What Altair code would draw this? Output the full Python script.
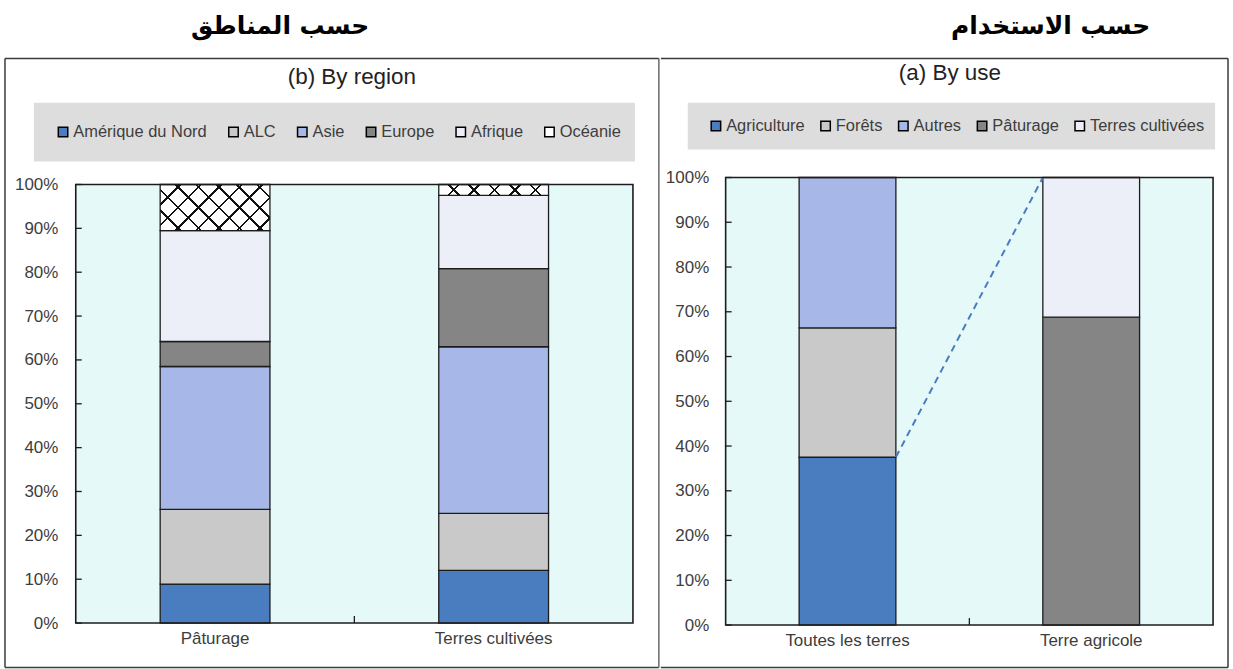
import math
import altair as alt
import pandas as pd

# ---------------- data ----------------
region_cats = ["Pâturage", "Terres cultivées"]
regions = ["Amérique du Nord", "ALC", "Asie", "Europe", "Afrique", "Océanie"]
region_colors = ["#4a7dbf", "#c9c9c9", "#a7b7e7", "#858585", "#eceef8", "#ffffff"]
paturage_shares = [8.9, 17.0, 32.6, 5.7, 25.3, 10.5]
cultivees_shares = [12.0, 13.0, 38.0, 17.8, 16.7, 2.5]

use_cats = ["Toutes les terres", "Terre agricole"]
uses = ["Agriculture", "Forêts", "Autres", "Pâturage", "Terres cultivées"]
use_colors = ["#4a7dbf", "#c9c9c9", "#a7b7e7", "#858585", "#eceef8"]
toutes_shares = [37.5, 28.9, 33.6, 0.0, 0.0]
agricole_shares = [0.0, 0.0, 0.0, 68.8, 31.2]

y_ticks = [0, 10, 20, 30, 40, 50, 60, 70, 80, 90, 100]

title_b = "(b) By region"
title_a = "(a) By use"
arabic_b = "حسب المناطق"
arabic_a = "حسب الاستخدام"

# ---------------- style ----------------
FONT = "Liberation Sans, Arial, sans-serif"
ARABIC = "DejaVu Sans, sans-serif"
FS = 17
LFS = 16.5
INK = "#1c1c1c"
LABEL = "#3d3d3d"
FRAME = "#3a3a3a"
LEGEND_BG = "#dddddd"
PLOT_BG = "#e5f9f9"
DASH = "#4a7dbf"
ONE = pd.DataFrame({"k": [0]})
BOUNDS = pd.DataFrame({"lo": [y_ticks[0]], "hi": [y_ticks[-1]]})

# panel geometry (plot area sizes)
WL, HL, PI_L = 559, 447, 0.606      # left: 100% sits 7px below the top of its area
TOP_L = 7
WR, HR, PI_R = 489, 449, 0.603


def long_table(cats, series, shares_by_cat):
    rows = []
    for cat, vals in zip(cats, shares_by_cat):
        for i, (s, v) in enumerate(zip(series, vals)):
            if v > 0:
                rows.append({"cat": cat, "series": s, "value": v, "order": i})
    return pd.DataFrame(rows)


def hrule(x1, x2, y, color, w):
    return alt.Chart(ONE).mark_rule(color=color, strokeWidth=w).encode(
        x=alt.value(x1), x2=alt.value(x2), y=alt.value(y))


def vrule(x, y1, y2, color, w):
    return alt.Chart(ONE).mark_rule(color=color, strokeWidth=w).encode(
        x=alt.value(x), y=alt.value(y1), y2=alt.value(y2))


def box(x1, x2, y1, y2, fill):
    return alt.Chart(ONE).mark_rect(fill=fill).encode(
        x=alt.value(x1), x2=alt.value(x2), y=alt.value(y1), y2=alt.value(y2))


def text(s, x, y, font, size, weight, color):
    return alt.Chart(pd.DataFrame({"t": [s]})).mark_text(
        font=font, fontSize=size, fontWeight=weight, color=color,
        align="center", baseline="middle").encode(
        text="t:N", x=alt.value(x), y=alt.value(y))


def hatch_gradient(w, h, flip, period=14.5, line=1.8):
    k = h / w
    a = (1 + k) / (1 + k * k)
    b = k * a
    dist = (w + h) / math.sqrt(2)
    n = dist / period
    hw = line / 2 / dist
    clear, ink = "rgba(0,0,0,0)", "#111111"
    stops = []
    i = 0
    while i / n - hw <= 1:
        c = i / n
        lo, hi = max(c - hw, 0.0), min(c + hw, 1.0)
        stops += [(lo, clear), (lo, ink), (hi, ink), (hi, clear)]
        i += 1
    if flip:
        x1, y1, x2, y2 = 0, 1, a, 1 - b
    else:
        x1, y1, x2, y2 = 0, 0, a, b
    return alt.LinearGradient(
        gradient="linear",
        stops=[alt.GradientStop(offset=o, color=c) for o, c in stops],
        x1=x1, y1=y1, x2=x2, y2=y2)


def make_axes(label_pad_y):
    xa = alt.Axis(domain=False, ticks=False, labelAngle=0, labelFont=FONT,
                  labelFontSize=FS, labelColor=LABEL, labelPadding=8, title=None)
    ya = alt.Axis(values=y_ticks, domain=False, ticks=False, grid=False,
                  labelExpr="datum.value + '%'", labelFont=FONT, labelFontSize=FS,
                  labelColor=LABEL, labelPadding=label_pad_y, title=None)
    return xa, ya


def plot_layers(df, cats, series, colors, W, H, top, pi, legend_x, legend_y,
                col_pad, label_pad_y):
    xa, ya = make_axes(label_pad_y)
    base = alt.Chart(df).transform_stack(
        stack="value", groupby=["cat"], as_=["y0", "y1"],
        sort=[alt.SortField("order", order="ascending")])
    yscale = alt.Scale(domain=[y_ticks[0], y_ticks[-1]], nice=False, range=[H, top])
    bg = alt.Chart(BOUNDS).mark_rect(fill=PLOT_BG).encode(
        x=alt.value(0), x2=alt.value(W),
        y=alt.Y("hi:Q", axis=ya, scale=yscale), y2="lo:Q")
    bars = base.mark_bar(stroke=INK, strokeWidth=1.3).encode(
        x=alt.X("cat:N", sort=cats, axis=xa,
                scale=alt.Scale(domain=cats, paddingInner=pi, paddingOuter=pi / 2)),
        y=alt.Y("y0:Q", axis=ya), y2="y1:Q",
        color=alt.Color("series:N", sort=series,
                        scale=alt.Scale(domain=series, range=colors),
                        legend=alt.Legend(title=None, orient="none", legendX=legend_x,
                                          legendY=legend_y, direction="horizontal",
                                          columns=len(series), padding=0,
                                          symbolType="square", symbolSize=90,
                                          symbolStrokeColor="black", symbolStrokeWidth=1.5,
                                          labelFont=FONT, labelFontSize=LFS,
                                          labelColor=LABEL, labelOffset=2,
                                          columnPadding=col_pad, labelLimit=300)))
    border = alt.Chart(BOUNDS).mark_rect(filled=False, stroke=INK, strokeWidth=1.6).encode(
        x=alt.value(0), x2=alt.value(W), y=alt.Y("hi:Q", axis=ya), y2="lo:Q")
    ticks = alt.Chart(pd.DataFrame({"t": y_ticks})).mark_rule(color=INK, strokeWidth=1.3).encode(
        y=alt.Y("t:Q", axis=ya), x=alt.value(0), x2=alt.value(6))
    mid = vrule(W / 2, H, H - 7, INK, 1.3)
    return base, xa, ya, bg, bars, border, ticks, mid


# ---------------- left panel: (b) by region ----------------
df_b = long_table(region_cats, regions, [paturage_shares, cultivees_shares])
base_b, xa_b, ya_b, bg_b, bars_b, border_b, ticks_b, mid_b = plot_layers(
    df_b, region_cats, regions, region_colors, WL, HL, TOP_L, PI_L, -21, -54, 18, 18)

bw_left = WL / 2 * (1 - PI_L)
px_per_unit = (HL - TOP_L) / (y_ticks[-1] - y_ticks[0])
hatches = []
oce = regions.index("Océanie")
for cat, shares in zip(region_cats, [paturage_shares, cultivees_shares]):
    h_px = shares[oce] * px_per_unit
    for flip in (False, True):
        g = hatch_gradient(bw_left, h_px, flip)
        hatches.append(
            base_b.transform_filter(alt.FieldEqualPredicate(field="cat", equal=cat))
            .transform_filter(alt.FieldEqualPredicate(field="series", equal="Océanie"))
            .mark_bar(fill=g)
            .encode(x=alt.X("cat:N", sort=region_cats, axis=xa_b),
                    y=alt.Y("y0:Q", axis=ya_b), y2="y1:Q"))

left = alt.layer(
    hrule(-75, 585, -176, "white", 0.1),
    vrule(-75, -176, 493, "white", 0.1),
    hrule(-75, 585, 493, "white", 0.1),
    hrule(-71, 585, -119.5, FRAME, 1.5),
    vrule(-71, -119.5, 491.5, FRAME, 1.5),
    hrule(-71, 585, 491.5, FRAME, 1.5),
    vrule(585, -119.5, 491.5, "#6a6a6a", 1.5),
    box(-42, 561, -75, -16, LEGEND_BG),
    bg_b,
    bars_b,
    *hatches,
    border_b,
    ticks_b,
    mid_b,
    text(title_b, 277, -101, FONT, 22.5, "normal", "#222222"),
    text(arabic_b, 205, -152, ARABIC, 25, "bold", "#000000"),
).properties(width=WL, height=HL)

# ---------------- right panel: (a) by use ----------------
df_a = long_table(use_cats, uses, [toutes_shares, agricole_shares])
base_a, xa_a, ya_a, bg_a, bars_a, border_a, ticks_a, mid_a = plot_layers(
    df_a, use_cats, uses, use_colors, WR, HR, 0, PI_R, -18, -60, 12, 17)

dash_df = pd.DataFrame({
    "c1": [use_cats[0]], "c2": [use_cats[1]],
    "v1": [toutes_shares[0]], "v2": [sum(agricole_shares)],
})
dash = alt.Chart(dash_df).mark_rule(color=DASH, strokeWidth=2, strokeDash=[7, 5]).encode(
    x=alt.X("c1:N", sort=use_cats, bandPosition=1, axis=xa_a),
    x2=alt.X2("c2", bandPosition=0),
    y=alt.Y("v1:Q", axis=ya_a),
    y2="v2")

right = alt.layer(
    hrule(-64.25, 508, -176, "white", 0.1),
    vrule(-64.25, -176, 493, "white", 0.1),
    vrule(508, -176, 493, "white", 0.1),
    hrule(-64.25, 508, 493, "white", 0.1),
    hrule(-65, 504, -119.5, FRAME, 1.5),
    vrule(504, -119.5, 491.5, FRAME, 1.5),
    hrule(-65, 504, 491.5, FRAME, 1.5),
    box(-38, 491, -75, -28, LEGEND_BG),
    bg_a,
    bars_a,
    dash,
    border_a,
    ticks_a,
    mid_a,
    text(title_a, 225, -105, FONT, 22.5, "normal", "#222222"),
    text(arabic_a, 326, -152, ARABIC, 25, "bold", "#000000"),
).properties(width=WR, height=HR)

chart = (
    alt.hconcat(left, right, spacing=0)
    .resolve_scale(x="independent", y="independent", color="independent")
    .resolve_legend(color="independent")
    .properties(padding=0, background="white")
    .configure_view(fill="transparent", stroke="transparent", strokeWidth=0)
)

chart.save("out.html", embed_options={"renderer": "svg", "actions": False})
